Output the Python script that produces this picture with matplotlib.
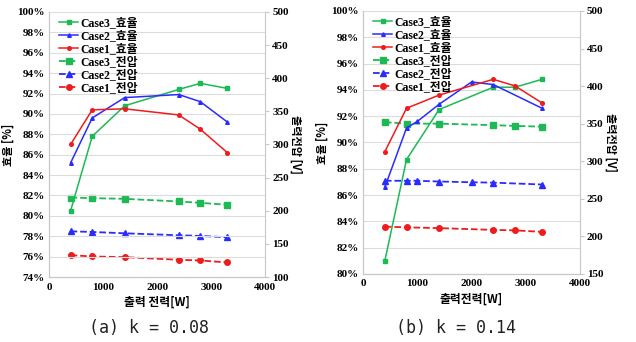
import matplotlib.pyplot as plt
from matplotlib.ticker import FuncFormatter, MultipleLocator

# (a) k = 0.08
a_x = [400, 800, 1400, 2400, 2800, 3300]
a_eff3 = [80.5, 87.8, 90.8, 92.4, 93.0, 92.5]
a_eff2 = [85.2, 89.6, 91.6, 91.9, 91.2, 89.2]
a_eff1 = [87.0, 90.4, 90.5, 89.9, 88.5, 86.2]
a_v3 = [220, 219, 218, 214, 212, 209]
a_v2 = [169, 168, 166, 163, 162, 160]
a_v1 = [133, 131, 130, 126, 125, 122]

# (b) k = 0.14
b_x = [400, 800, 1400, 2400, 2800, 3300]
b_x2 = [400, 800, 1000, 1400, 2000, 2400, 3300]
b_eff3 = [81.0, 88.7, 92.5, 94.2, 94.2, 94.8]
b_eff2 = [86.6, 91.1, 91.6, 92.9, 94.6, 94.4, 92.6]
b_eff1 = [89.3, 92.6, 93.6, 94.8, 94.3, 93.0]
b_v3 = [352, 350, 350, 348, 347, 346]
b_v2 = [274, 274, 274, 273, 272, 271.5, 269]
b_v1 = [213, 212, 211, 208.6, 208, 206]

GREEN = '#1db954'
BLUE = '#2b2bff'
RED = '#ee1c1c'
GRAY = '#c8c8c8'
serif = dict(family='Liberation Serif', weight='bold', size=8)
mixed = ['Liberation Serif', 'Noto Sans CJK KR']
kor = ['Noto Sans CJK KR', 'DejaVu Sans']


def panel(rect, x, x2, e3, e2, e1, v3, v2, v1, ylo, yhi, vlo, vhi, xlabel):
    ax = fig.add_axes(rect)
    ax2 = ax.twinx()
    l1, = ax.plot(x, e3, color=GREEN, marker='s', ms=2.6, lw=1.1, label='Case3_효율')
    l2, = ax.plot(x2, e2, color=BLUE, marker='^', ms=2.6, lw=1.1, label='Case2_효율')
    l3, = ax.plot(x, e1, color=RED, marker='o', ms=2.6, lw=1.1, label='Case1_효율')
    v2x = x2 if len(v2) == len(x2) else x
    l4, = ax2.plot(x, v3, color=GREEN, marker='s', ms=4, lw=1.3, ls='--', label='Case3_전압')
    l5, = ax2.plot(v2x, v2, color=BLUE, marker='^', ms=4, lw=1.3, ls='--', label='Case2_전압')
    l6, = ax2.plot(x, v1, color=RED, marker='o', ms=4, lw=1.3, ls='--', label='Case1_전압')

    ax.set_xlim(0, 4000)
    ax.set_ylim(ylo, yhi)
    ax2.set_ylim(vlo, vhi)
    ax.xaxis.set_major_locator(MultipleLocator(1000))
    ax.yaxis.set_major_locator(MultipleLocator(2))
    ax2.yaxis.set_major_locator(MultipleLocator(50))
    ax.yaxis.set_major_formatter(FuncFormatter(lambda v, p: f'{v:.0f}%'))
    ax.grid(axis='y', color='#dcdcdc', lw=0.8)
    ax.set_axisbelow(True)

    for a in (ax, ax2):
        for s in a.spines.values():
            s.set_color(GRAY)
        a.spines['top'].set_visible(False)
    ax.spines['right'].set_visible(False)
    ax.tick_params(axis='y', length=0, pad=3)
    ax.tick_params(axis='x', length=0, pad=4)
    ax2.tick_params(axis='y', length=3, color=GRAY, pad=2)
    for t in ax.get_xticklabels() + ax.get_yticklabels() + ax2.get_yticklabels():
        t.set_fontproperties(serif)

    ax.set_xlabel(xlabel, family=kor, fontsize=8.5, fontweight='bold', labelpad=3)
    ax.set_ylabel('효율 [%]', family=kor, fontsize=8, fontweight='bold', labelpad=2)
    ax2.set_ylabel('출력전압 [V]', family=kor, fontsize=8, fontweight='bold',
                   rotation=270, labelpad=10)

    ax.legend(handles=[l1, l2, l3, l4, l5, l6], loc='upper left',
              frameon=False, prop=dict(family=mixed, weight='bold', size=8.5),
              handlelength=1.6, handletextpad=0.2, labelspacing=0.1,
              borderaxespad=0.0, bbox_to_anchor=(0.025, 1.0))
    ax.set_zorder(ax2.get_zorder() + 1)
    ax.patch.set_visible(False)
    return ax


fig = plt.figure(figsize=(6.36, 3.42), dpi=100)
panel([0.077, 0.19, 0.34, 0.775], a_x, a_x, a_eff3, a_eff2, a_eff1,
      a_v3, a_v2, a_v1, 74, 100, 100, 500, '출력 전력[W]')
panel([0.571, 0.199, 0.341, 0.769], b_x, b_x2, b_eff3, b_eff2, b_eff1,
      b_v3, b_v2, b_v1, 80, 100, 150, 500, '출력전력[W]')

fig.text(0.235, 0.042, '(a) k = 0.08', family='DejaVu Sans Mono', fontsize=12,
         color='#222222', ha='center', va='center')
fig.text(0.717, 0.042, '(b) k = 0.14', family='DejaVu Sans Mono', fontsize=12,
         color='#222222', ha='center', va='center')

fig.savefig('out.png', dpi=100)
